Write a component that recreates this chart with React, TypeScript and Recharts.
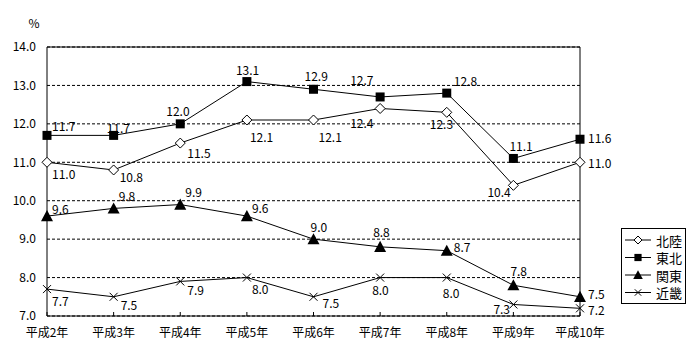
import {
  LineChart,
  Line,
  XAxis,
  YAxis,
  CartesianGrid,
  ReferenceLine,
  LabelList,
} from "recharts";

const years = ["平成2年", "平成3年", "平成4年", "平成5年", "平成6年", "平成7年", "平成8年", "平成9年", "平成10年"];
const hokuriku = [11.0, 10.8, 11.5, 12.1, 12.1, 12.4, 12.3, 10.4, 11.0];
const tohoku = [11.7, 11.7, 12.0, 13.1, 12.9, 12.7, 12.8, 11.1, 11.6];
const kanto = [9.6, 9.8, 9.9, 9.6, 9.0, 8.8, 8.7, 7.8, 7.5];
const kinki = [7.7, 7.5, 7.9, 8.0, 7.5, 8.0, 8.0, 7.3, 7.2];
const yTicks = [7, 8, 9, 10, 11, 12, 13, 14];

const data = years.map((year, i) => ({
  year,
  hokuriku: hokuriku[i],
  tohoku: tohoku[i],
  kanto: kanto[i],
  kinki: kinki[i],
}));

// label offsets from each point, hand placed like the original
const offHokuriku = [[5, 11], [6, 7], [7, 9], [3, 16], [5, 16], [-30, 14], [-17, 11], [-26, 6], [8, 0]];
const offTohoku = [[5, -10], [-7, -8], [-14, -13], [-11, -12], [-9, -14], [-30, -17], [7, -13], [-4, -13], [8, -2]];
const offKanto = [[5, -8], [5, -13], [5, -13], [5, -9], [-3, -13], [-7, -15], [7, -4], [-3, -15], [8, -3]];
const offKinki = [[5, 11], [7, 8], [7, 8], [5, 11], [9, 6], [-8, 12], [-4, 15], [-20, 4], [8, 1]];

const FONT = "'Noto Sans CJK JP', sans-serif";

type Shape = "diamond" | "square" | "triangle" | "cross";

function Marker({ cx, cy, shape, s = 1 }: { cx: number; cy: number; shape: Shape; s?: number }) {
  if (shape === "diamond") {
    const r = 5 * s;
    return (
      <polygon
        points={`${cx},${cy - r} ${cx + r},${cy} ${cx},${cy + r} ${cx - r},${cy}`}
        fill="#fff"
        stroke="#000"
        strokeWidth={1}
      />
    );
  }
  if (shape === "square") {
    const r = 4.5 * s;
    return <rect x={cx - r} y={cy - r} width={r * 2} height={r * 2} fill="#000" />;
  }
  if (shape === "triangle") {
    const r = 6 * s;
    return (
      <polygon points={`${cx},${cy - r} ${cx + r},${cy + r * 0.85} ${cx - r},${cy + r * 0.85}`} fill="#000" />
    );
  }
  const r = 4 * s;
  return (
    <g stroke="#000" strokeWidth={1}>
      <line x1={cx - r} y1={cy - r} x2={cx + r} y2={cy + r} />
      <line x1={cx - r} y1={cy + r} x2={cx + r} y2={cy - r} />
    </g>
  );
}

const dotFor = (shape: Shape) => (props: any) =>
  <Marker key={`${shape}-${props.index}`} cx={props.cx} cy={props.cy} shape={shape} />;

const labelFor = (offsets: number[][]) => (props: any) => {
  const { x, y, value, index } = props;
  const [dx, dy] = offsets[index] || [5, -10];
  return (
    <text
      x={x + dx}
      y={y + dy}
      textAnchor="start"
      dominantBaseline="central"
      fontSize={12}
      fontFamily={FONT}
      fill="#000"
    >
      {Number(value).toFixed(1)}
    </text>
  );
};

function YearTick({ x, y, payload }: any) {
  return (
    <g>
      <line x1={x} x2={x} y1={y - 15} y2={y - 19} stroke="#000" />
      <text x={x} y={y} textAnchor="middle" dominantBaseline="central" fontSize={12} fontFamily={FONT} fill="#000">
        {payload.value}
      </text>
    </g>
  );
}

const legendItems: { name: string; shape: Shape }[] = [
  { name: "北陸", shape: "diamond" },
  { name: "東北", shape: "square" },
  { name: "関東", shape: "triangle" },
  { name: "近畿", shape: "cross" },
];

function LegendBox() {
  return (
    <svg width={65} height={76} style={{ display: "block" }}>
      <rect x={0.5} y={0.5} width={64} height={75} fill="#fff" stroke="#000" />
      {legendItems.map((it, i) => {
        const cy = 12 + i * 17.5;
        return (
          <g key={it.name}>
            <line x1={4} x2={30} y1={cy} y2={cy} stroke="#000" />
            <Marker cx={17} cy={cy} shape={it.shape} s={0.8} />
            <text x={35} y={cy} dominantBaseline="central" fontSize={13} fontFamily={FONT} fill="#000">
              {it.name}
            </text>
          </g>
        );
      })}
    </svg>
  );
}

export default function App() {
  return (
    <div style={{ position: "relative", width: 700, height: 360, margin: -8, background: "#fff", fontFamily: FONT }}>
      <LineChart width={700} height={360} data={data} margin={{ top: 47, right: 120, left: 0, bottom: 14 }}>
        <CartesianGrid horizontal vertical={false} stroke="#000" strokeDasharray="3 2" />
        <XAxis
          dataKey="year"
          height={30}
          stroke="#000"
          tickLine={false}
          tickSize={0}
          tickMargin={15}
          tick={<YearTick />}
          interval={0}
        />
        <YAxis
          domain={[7, 14]}
          ticks={yTicks}
          width={47}
          stroke="#000"
          tickLine={false}
          tickSize={0}
          tickMargin={11}
          tick={{ fill: "#000", fontSize: 12, fontFamily: FONT }}
          tickFormatter={(v) => Number(v).toFixed(1)}
          label={{
            content: () => (
              <text x={34} y={22} textAnchor="middle" dominantBaseline="central" fontSize={12} fontFamily={FONT}>
                %
              </text>
            ),
          }}
        />
        <ReferenceLine y={14} stroke="#000" />
        <ReferenceLine x="平成10年" stroke="#000" />
        <Line dataKey="hokuriku" name="北陸" stroke="#000" strokeWidth={1} dot={dotFor("diamond")} activeDot={false} isAnimationActive={false}>
          <LabelList dataKey="hokuriku" content={labelFor(offHokuriku)} />
        </Line>
        <Line dataKey="tohoku" name="東北" stroke="#000" strokeWidth={1} dot={dotFor("square")} activeDot={false} isAnimationActive={false}>
          <LabelList dataKey="tohoku" content={labelFor(offTohoku)} />
        </Line>
        <Line dataKey="kanto" name="関東" stroke="#000" strokeWidth={1} dot={dotFor("triangle")} activeDot={false} isAnimationActive={false}>
          <LabelList dataKey="kanto" content={labelFor(offKanto)} />
        </Line>
        <Line dataKey="kinki" name="近畿" stroke="#000" strokeWidth={1} dot={dotFor("cross")} activeDot={false} isAnimationActive={false}>
          <LabelList dataKey="kinki" content={labelFor(offKinki)} />
        </Line>
      </LineChart>
      <div style={{ position: "absolute", left: 621, top: 228 }}>
        <LegendBox />
      </div>
    </div>
  );
}
